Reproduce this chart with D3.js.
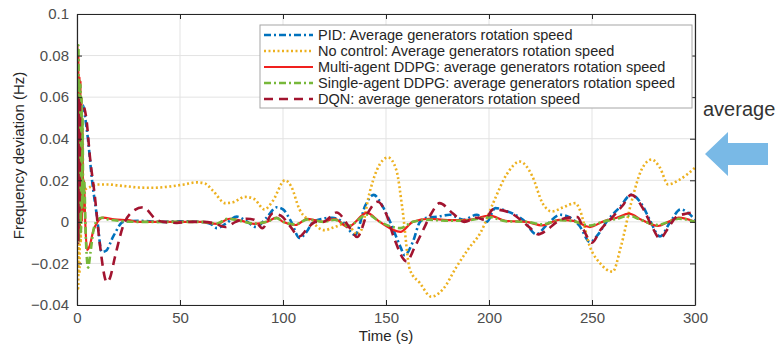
<!DOCTYPE html>
<html>
<head>
<meta charset="utf-8">
<script src="https://cdn.jsdelivr.net/npm/d3@7/dist/d3.min.js"></script>
<style>
  body { margin: 0; background: white; font-family: "Liberation Sans", Arial, Helvetica, sans-serif; }
</style>
</head>
<body>
<svg id="chart" width="784" height="344"></svg>
<script>
// ---- data: [time (s), frequency deviation (Hz)] ----
let xTicks = [0, 50, 100, 150, 200, 250, 300]
let yTicks = [-0.04, -0.02, 0, 0.02, 0.04, 0.06, 0.08, 0.1]

let pid = [[0,0],[0.3,0.07],[0.6,-0.005],[0.9,0.065],[1.2,0],[1.5,0.06],[2,0.055],[3,0.056],[4,0.05],[5.3,0.04],[7.3,0.02],[9.7,0.0025],[12,-0.0145],[14,-0.014],[17.6,-0.007],[22.5,0],[30,0.0005],[40,0],[50,0.0003],[60,0],[65,-0.001],[68,-0.003],[72,-0.001],[77.6,0.0025],[82,0.0005],[87,-0.0025],[92,0.002],[97,0.007],[100,0.006],[104,0],[108,-0.0078],[112,-0.004],[114.6,0],[119,0.0015],[124,0.002],[129,0],[135,-0.0063],[140,0.008],[144,0.013],[148.5,0.0072],[152,0],[157,-0.012],[159,-0.016],[163,-0.0097],[166.5,0],[170,0.002],[175,0.0025],[181,0.0034],[187.5,0.001],[194,0.0034],[199,0],[203,0.0066],[209,0.005],[216.5,0.001],[223,-0.006],[228,-0.0015],[234.5,0.0034],[239,0.0023],[244,-0.002],[249,-0.0097],[253,-0.006],[257,0],[263.6,0.0072],[269,0.013],[275,0.007],[278,0.001],[283,-0.007],[288,0],[293,0.006],[297,0.004],[300,0.001]]

let noControl = [[0,0],[0.3,0.06],[0.6,-0.032],[0.9,0.05],[1.2,-0.025],[1.5,0.04],[1.8,-0.01],[2.1,0.03],[2.5,0.012],[3,0.018],[3.5,0.014],[4.5,0.016],[7,0.017],[10,0.018],[15,0.018],[20,0.0175],[25,0.017],[30,0.0165],[37,0.0164],[45,0.017],[52,0.018],[58,0.019],[62,0.0185],[66,0.015],[72,0.009],[76,0.0095],[81.5,0.012],[86,0.011],[91,0.006],[95,0.01],[101,0.02],[104,0.017],[108,0.006],[114,0],[120,-0.004],[125,-0.0025],[130,-0.001],[133,-0.003],[136,-0.006],[138,-0.004],[142,0.014],[145.6,0.025],[151,0.031],[155,0.025],[158,0.006],[161.6,-0.023],[166.5,-0.0295],[172,-0.036],[178,-0.032],[184,-0.022],[190,-0.013],[196,-0.005],[202,0.009],[208.7,0.023],[215,0.029],[221,0.022],[226,0.009],[230.5,0.005],[236,0.007],[242,0.009],[244,0.006],[249,-0.012],[254,-0.02],[260,-0.024],[264,-0.012],[269,0.009],[274,0.025],[279,0.03],[283,0.026],[287,0.018],[292,0.02],[300,0.026]]

let multiDDPG = [[0,0],[0.2,0.085],[0.45,-0.008],[0.7,0.08],[0.95,-0.005],[1.2,0.07],[1.45,-0.005],[1.7,0.068],[1.95,0],[2.2,0.06],[2.45,0],[2.7,0.045],[3,0.005],[3.4,0.02],[4,0],[4.9,-0.0135],[6,-0.012],[8,-0.004],[10,0],[12.6,0.002],[18,0.0012],[25,0.0008],[30,0],[40,0],[50,0],[60,0],[68,-0.001],[74,0.0015],[80,0.0005],[86,-0.001],[92,0],[97,0.002],[100,0],[106,-0.0015],[112,0.0015],[119.5,0],[125,0.0015],[131.5,-0.0025],[140.7,0.0043],[147,0],[157,-0.0048],[163,0],[171,0.0015],[180,0.0008],[190,0.001],[200.5,0.003],[208,0.0005],[218,0],[226,-0.0017],[234,0.001],[241,0.0005],[249,-0.0025],[255,0],[262,0.002],[268,0.004],[274,0.001],[282,-0.002],[287,0],[292,0.002],[300,0]]

let singleDDPG = [[0,0],[0.2,0.085],[0.45,-0.005],[0.7,0.085],[0.95,-0.01],[1.2,0.068],[1.45,0],[1.7,0.066],[1.95,-0.005],[2.2,0.06],[2.45,0.005],[2.7,0.05],[3,0.01],[3.5,0.02],[4.2,-0.005],[5.4,-0.022],[6.5,-0.015],[8,-0.004],[10,0.001],[12,0.002],[15,0.0012],[20,0.0005],[30,0],[40,0],[50,0],[60,0],[68,-0.0008],[73,0.0015],[80,0.0003],[86,-0.0008],[92,0],[97,0.0018],[100,0],[106,-0.0012],[112,0.0012],[119.5,0],[125,0.001],[131.5,-0.002],[141,0.0035],[147,0],[157,-0.003],[163,0],[171,0.001],[180,0.0005],[190,0.0008],[200.5,0.0022],[208,0.0003],[218,0],[226,-0.0012],[234,0.0008],[241,0.0003],[249,-0.0018],[255,0],[262,0.0015],[268,0.003],[274,0.0008],[282,-0.0015],[287,0],[292,0.0015],[300,0]]

let dqn = [[0,0],[0.3,0.06],[0.6,-0.01],[0.9,0.06],[1.2,0.005],[1.5,0.057],[2.5,0.057],[3.5,0.055],[4.5,0.05],[6.3,0.031],[8.7,0.012],[11,-0.01],[14.5,-0.029],[16,-0.027],[18.4,-0.017],[22.4,-0.002],[27,0.005],[32,0.007],[38.6,0.001],[42,0],[48.5,-0.0005],[55,0],[60,0],[66,-0.0005],[72,-0.0025],[77,0],[82.5,0.0015],[86,0.001],[90,-0.003],[95,0.004],[99,0.003],[103,-0.0015],[108,-0.007],[112,-0.003],[116,0],[119.5,0],[126,0.0045],[132.5,-0.003],[136,-0.0073],[141,0.004],[146,0.0097],[150,0.004],[154,-0.008],[160,-0.019],[164,-0.012],[168,-0.004],[172,0.004],[176,0.009],[182.5,0.004],[188,0],[194,0.002],[198,0.001],[202,0.006],[210,0.0045],[216.5,0],[220,-0.003],[224,-0.006],[228,-0.004],[233,0],[238,0.002],[243,0.0023],[246,-0.004],[250,-0.01],[254,-0.004],[260,0.0024],[265,0.008],[269,0.013],[275,0.006],[279,-0.002],[283,-0.008],[287,-0.003],[291,0.0024],[296,0.004],[300,0.0048]]

let seriesNames = [
  "PID: Average generators rotation speed",
  "No control: Average generators rotation speed",
  "Multi-agent DDPG: average generators rotation speed",
  "Single-agent DDPG: average generators rotation speed",
  "DQN: average generators rotation speed"
]
let seriesData = [pid, noControl, multiDDPG, singleDDPG, dqn]
let seriesStyle = [
  { color: "#0072BD", width: 2.6, dash: "7,3,2,3" },
  { color: "#EDB120", width: 2.6, dash: "2,2.5" },
  { color: "#F0201E", width: 2.2, dash: null },
  { color: "#77B83A", width: 2.6, dash: "7,3,2,3" },
  { color: "#A2142F", width: 2.6, dash: "9,6" }
]

// ---- layout ----
let margin = { left: 77, top: 14, right: 89, bottom: 39 }
let width = 784, height = 344
let bodyW = width - margin.left - margin.right
let bodyH = height - margin.top - margin.bottom

let svg = d3.select("#chart")
let xScale = d3.scaleLinear().domain([0, 300]).range([margin.left, margin.left + bodyW])
let yScale = d3.scaleLinear().domain([-0.04, 0.1]).range([margin.top + bodyH, margin.top])

// grid
let grid = svg.append("g")
grid.selectAll(".gx").data(xTicks).enter().append("line")
  .attr("x1", d => xScale(d)).attr("x2", d => xScale(d))
  .attr("y1", margin.top).attr("y2", margin.top + bodyH)
  .attr("stroke", "#e3e3e3").attr("stroke-width", 1)
grid.selectAll(".gy").data(yTicks).enter().append("line")
  .attr("y1", d => yScale(d)).attr("y2", d => yScale(d))
  .attr("x1", margin.left).attr("x2", margin.left + bodyW)
  .attr("stroke", "#e3e3e3").attr("stroke-width", 1)

// lines
let clip = svg.append("clipPath").attr("id", "clip").append("rect")
  .attr("x", margin.left).attr("y", margin.top).attr("width", bodyW).attr("height", bodyH)
let line = d3.line().x(d => xScale(d[0])).y(d => yScale(d[1])).curve(d3.curveMonotoneX)
let plot = svg.append("g").attr("clip-path", "url(#clip)")
seriesData.forEach((data, i) => {
  let s = seriesStyle[i]
  plot.append("path")
    .attr("d", line(data))
    .attr("fill", "none")
    .attr("stroke", s.color)
    .attr("stroke-width", s.width)
    .attr("stroke-dasharray", s.dash)
    .attr("stroke-linejoin", "round")
})

// axes (MATLAB style: inward ticks, box)
let axisColor = "#262626"
let tickLen = 5
let xAxis = d3.axisBottom(xScale).tickValues(xTicks).tickSizeInner(-tickLen).tickSizeOuter(0).tickPadding(7)
let yAxis = d3.axisLeft(yScale).tickValues(yTicks).tickSizeInner(-tickLen).tickSizeOuter(0).tickPadding(8)
  .tickFormat(d => d3.format("")(+d.toFixed(2)))
let xTop = d3.axisTop(xScale).tickValues(xTicks).tickSizeInner(-tickLen).tickSizeOuter(0).tickFormat("")
let yRight = d3.axisRight(yScale).tickValues(yTicks).tickSizeInner(-tickLen).tickSizeOuter(0).tickFormat("")

function styleAxis(g) {
  g.select(".domain").attr("stroke", axisColor).attr("stroke-width", 1.2)
  g.selectAll(".tick line").attr("stroke", axisColor)
  g.selectAll(".tick text").attr("fill", "#4d4d4d").style("font-size", "15px")
    .style("font-family", "'Liberation Sans', Arial, sans-serif")
}
svg.append("g").attr("transform", `translate(0,${margin.top + bodyH})`).call(xAxis).call(styleAxis)
svg.append("g").attr("transform", `translate(${margin.left},0)`).call(yAxis).call(styleAxis)
svg.append("g").attr("transform", `translate(0,${margin.top})`).call(xTop).call(styleAxis)
svg.append("g").attr("transform", `translate(${margin.left + bodyW},0)`).call(yRight).call(styleAxis)

// axis labels
svg.append("text").attr("x", xScale(150)).attr("y", 341).attr("text-anchor", "middle")
  .attr("fill", "#262626").style("font-size", "15px").text("Time (s)")
svg.append("text").attr("transform", `translate(24,${margin.top + bodyH / 2 - 4}) rotate(-90)`)
  .attr("text-anchor", "middle").attr("fill", "#262626").style("font-size", "15px")
  .text("Frequency deviation (Hz)")

// legend
let legend = svg.append("g").attr("transform", "translate(260,25)")
legend.append("rect").attr("width", 432).attr("height", 83)
  .attr("fill", "white").attr("stroke", "#a6a6a6").attr("stroke-width", 1)
seriesNames.forEach((name, i) => {
  let s = seriesStyle[i]
  let y = 10 + i * 16
  legend.append("line").attr("x1", 4).attr("x2", 53).attr("y1", y).attr("y2", y)
    .attr("stroke", s.color).attr("stroke-width", s.width).attr("stroke-dasharray", s.dash)
  legend.append("text").attr("x", 58).attr("y", y + 5)
    .attr("fill", "#262626").style("font-size", "14.5px").text(name)
})

// side annotation
svg.append("text").attr("x", 703).attr("y", 116).attr("fill", "#333")
  .style("font-size", "20px").text("average")
svg.append("path")
  .attr("d", "M705,154 L728,132 L728,143 L768,143 L768,165 L728,165 L728,176 Z")
  .attr("fill", "#79b9e6")
</script>
</body>
</html>
